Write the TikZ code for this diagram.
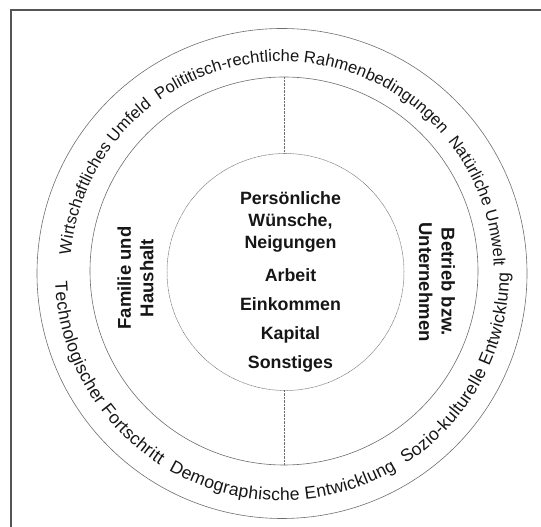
\documentclass[tikz,border=0pt]{standalone}
\usepackage{fontspec}
\setmainfont{Liberation Sans}
\usetikzlibrary{decorations.text}
\definecolor{ringgray}{HTML}{6E6E6E}
\definecolor{framegray}{HTML}{555555}
\definecolor{txt}{HTML}{161616}
\begin{document}
\begin{tikzpicture}[x=1pt,y=1pt,
  ring/.style={circle, draw=ringgray, line width=0.6pt, inner sep=0pt, outer sep=0pt},
  fineline/.style={draw=ringgray, line width=0.5pt, dash pattern=on 0.9pt off 0.5pt},
  lbl/.style={text=txt, align=center, font=\bfseries\fontsize{18.5}{22.5}\selectfont}
]
\useasboundingbox (0,0) rectangle (541,527);
% frame (only top and left edges visible)
\draw[framegray, line width=1.6pt] (11,-10) -- (11,517) -- (560,517);
% rings
\node[ring, minimum size=490pt] (outer) at (282,253.5) {};
\node[ring, minimum size=388pt] (middle) at (284,256) {};
\node[ring, fineline, minimum size=237pt] (inner) at (285.5,255) {};
% separators
\draw[fineline] (middle.north) -- (middle.north |- inner.north);
\draw[fineline] (middle.south) -- (middle.south |- inner.south);
% curved texts
\path[decorate, decoration={text along path, text color=txt, text align={fit to path},
  text={|\fontsize{16.6}{16}\selectfont|Wirtschaftliches Umfeld {\ }Polititisch-rechtliche Rahmenbedingungen {\ }Natürliche Umwelt}}]
  ([shift={(175:212)}]outer.center) arc[start angle=175, end angle=2, radius=212];
\path[decorate, decoration={text along path, text color=txt, text align={fit to path},
  text={|\fontsize{17.6}{16}\selectfont|Technologischer Fortschritt {\ }Demographische Entwicklung {\ }Sozio-kulturelle Entwicklung}}]
  ([shift={(182:227)}]outer.center) arc[start angle=182, end angle=360, radius=227];
% inner labels
\node[lbl, font=\bfseries\fontsize{17.8}{22}\selectfont] (core) at (290.5,245)
  {Persönliche\\Wünsche,\\Neigungen\\[11pt]Arbeit\\[7pt]Einkommen\\[7pt]Kapital\\[7pt]Sonstiges};
\node[lbl, rotate=90] (family) at (135.5,249)
  {Familie und\\Haushalt};
\node[lbl, rotate=-90] (firm) at (437,245)
  {Betrieb bzw.\\Unternehmen};
\end{tikzpicture}
\end{document}
